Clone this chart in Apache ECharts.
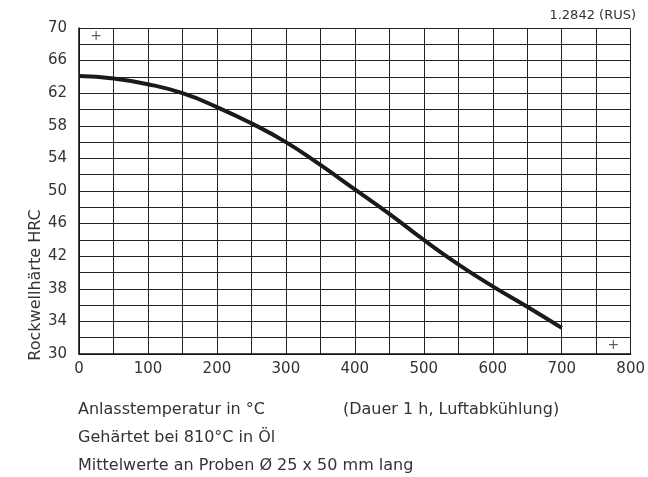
<!DOCTYPE html>
<html>
<head>
<meta charset="utf-8">
<script src="https://cdn.jsdelivr.net/npm/echarts@6/dist/echarts.min.js"></script>
<style>
  html, body { margin: 0; padding: 0; background: #fff; }
  #chart { width: 648px; height: 477px; }
</style>
</head>
<body>
<div id="chart"></div>
<script>
// Anlasstemperatur (°C) und Härte (HRC)
var temps = [0, 50, 100, 150, 200, 250, 300, 350, 400, 450, 500, 550, 600, 650, 700];
var hardness = [64.1, 63.8, 63.1, 62.0, 60.3, 58.3, 56.0, 53.2, 50.2, 47.2, 44.0, 41.0, 38.3, 35.8, 33.2];
// Kreuzmarken in den Ecken
var crosses = [[25, 69], [775, 31]];
var noteLines = [
  'Anlasstemperatur in °C',
  'Gehärtet bei 810°C in Öl',
  'Mittelwerte an Proben Ø 25 x 50 mm lang'
];
var noteRight = '(Dauer 1 h, Luftabkühlung)';
var steelName = '1.2842 (RUS)';
var yName = 'Rockwellhärte HRC';

var font = 'DejaVu Sans';
var textColor = '#333';

var chart = echarts.init(document.getElementById('chart'));
var option = {
  animation: false,
  textStyle: { fontFamily: font },
  grid: { left: 79, right: 14, top: 28, bottom: 123 },
  xAxis: {
    type: 'value',
    min: 0,
    max: 800,
    interval: 50,
    axisLine: { lineStyle: { color: '#111', width: 1.5 } },
    axisTick: { show: false },
    splitLine: { lineStyle: { color: '#222', width: 1 } },
    axisLabel: {
      color: textColor,
      fontSize: 15,
      margin: 8,
      formatter: function (v) { return v % 100 === 0 ? String(v) : ''; }
    }
  },
  yAxis: {
    type: 'value',
    min: 30,
    max: 70,
    interval: 2,
    axisLine: { show: true, lineStyle: { color: '#111', width: 1.5 } },
    axisTick: { show: false },
    splitLine: { lineStyle: { color: '#222', width: 1 } },
    axisLabel: {
      color: textColor,
      fontSize: 15,
      margin: 12,
      formatter: function (v) { return (v - 30) % 4 === 0 ? String(v) : ''; }
    }
  },
  series: [
    {
      type: 'line',
      data: temps.map(function (t, i) { return [t, hardness[i]]; }),
      smooth: true,
      symbol: 'none',
      lineStyle: { color: '#1a1a1a', width: 4 }
    },
    {
      type: 'scatter',
      data: crosses,
      symbolSize: 0,
      label: {
        show: true,
        position: 'inside',
        formatter: '+',
        color: '#333',
        fontSize: 14
      }
    }
  ],
  graphic: [
    {
      type: 'text',
      right: 12,
      top: 9,
      style: { text: steelName, fill: textColor, font: '13px ' + font }
    },
    {
      type: 'text',
      x: 36,
      y: 285,
      rotation: Math.PI / 2,
      style: {
        text: yName, fill: textColor, font: '16px ' + font,
        align: 'center', verticalAlign: 'middle'
      }
    },
    {
      type: 'text',
      x: 78, y: 410,
      style: { text: noteLines[0], fill: textColor, font: '16px ' + font, verticalAlign: 'middle' }
    },
    {
      type: 'text',
      x: 343, y: 410,
      style: { text: noteRight, fill: textColor, font: '16px ' + font, verticalAlign: 'middle' }
    },
    {
      type: 'text',
      x: 78, y: 438,
      style: { text: noteLines[1], fill: textColor, font: '16px ' + font, verticalAlign: 'middle' }
    },
    {
      type: 'text',
      x: 78, y: 466,
      style: { text: noteLines[2], fill: textColor, font: '16px ' + font, verticalAlign: 'middle' }
    }
  ]
};
chart.setOption(option);
</script>
</body>
</html>
